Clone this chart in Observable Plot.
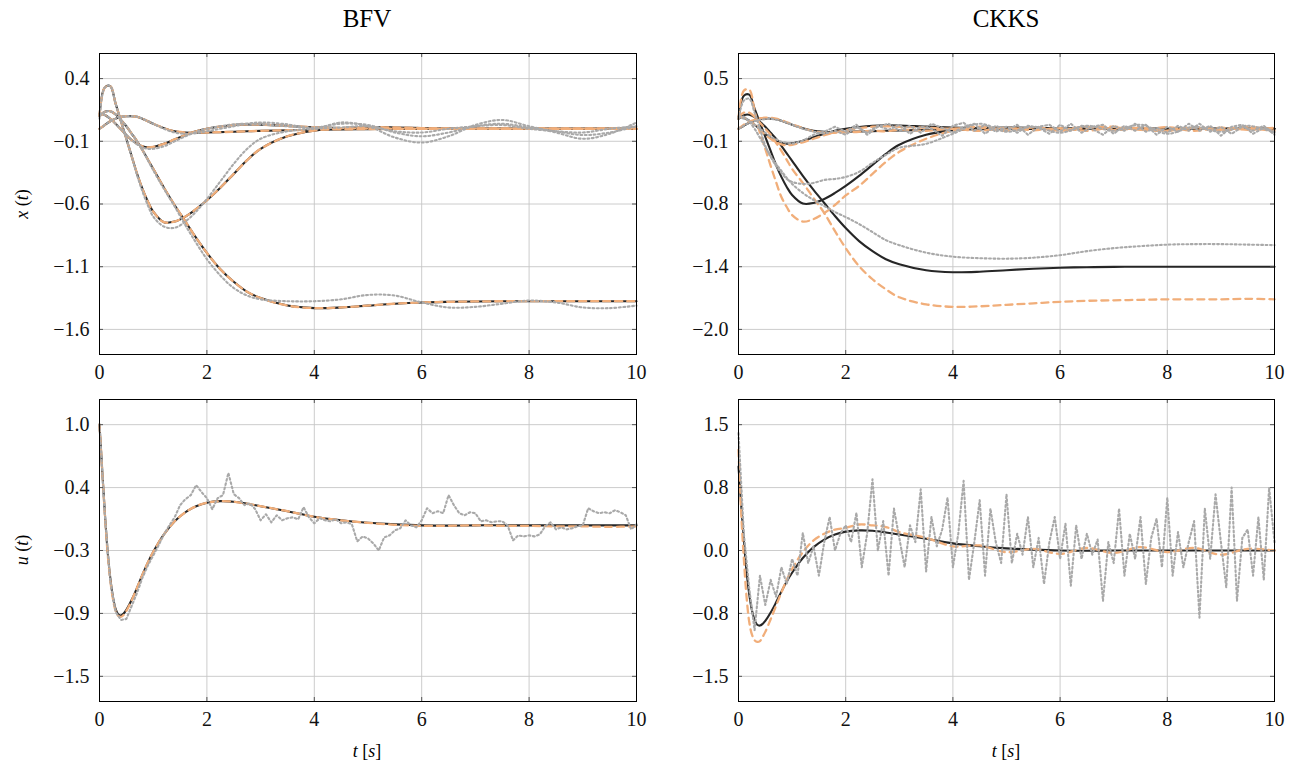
<!DOCTYPE html>
<html><head><meta charset="utf-8">
<script src="https://cdn.jsdelivr.net/npm/d3@7"></script>
<script src="https://cdn.jsdelivr.net/npm/@observablehq/plot@0.6"></script>
<style>
html,body{margin:0;padding:0;background:#fff;}
#wrap{position:relative;width:1299px;height:763px;overflow:hidden;font-family:"Liberation Serif",serif;color:#000;}
.title{position:absolute;font-size:25px;line-height:25px;text-align:center;width:200px;}
.lab{position:absolute;font-size:18px;line-height:18px;text-align:center;width:120px;white-space:nowrap;}
.ylab{transform:rotate(-90deg);}
</style></head><body><div id="wrap"></div>
<script>
// ---------- time grids ----------
const tS = [0,0.1,0.2,0.3,0.4,0.5,0.6,0.7,0.8,0.9,1.0,1.2,1.4,1.6,1.8,2.0,2.25,2.5,2.75,3.0,3.5,4.0,4.5,5.0,5.5,6.0,6.5,7.0,7.5,8.0,8.5,9.0,9.5,10.0];
const tF = [0,0.2,0.4,0.6,0.8,1.0,1.2,1.4,1.6,1.8,2.0,2.2,2.4,2.6,2.8,3.0,3.2,3.4,3.6,3.8,4.0,4.2,4.4,4.6,4.8,5.0,5.2,5.4,5.6,5.8,6.0,6.2,6.4,6.6,6.8,7.0,7.2,7.4,7.6,7.8,8.0,8.2,8.4,8.6,8.8,9.0,9.2,9.4,9.6,9.8,10.0];
const tU = [0,0.05,0.1,0.15,0.2,0.25,0.3,0.35,0.4,0.45,0.5,0.6,0.7,0.8,0.9,1.0,1.2,1.4,1.6,1.8,2.0,2.25,2.5,2.75,3.0,3.5,4.0,4.5,5.0,5.5,6.0,6.5,7.0,7.5,8.0,8.5,9.0,9.5,10.0];
const tD = [0,0.1,0.2,0.3,0.4,0.5,0.6,0.7,0.8,0.9,1.0,1.1,1.2,1.3,1.4,1.5,1.6,1.7,1.8,1.9,2.0,2.1,2.2,2.3,2.4,2.5,2.6,2.7,2.8,2.9,3.0,3.1,3.2,3.3,3.4,3.5,3.6,3.7,3.8,3.9,4.0,4.1,4.2,4.3,4.4,4.5,4.6,4.7,4.8,4.9,5.0,5.1,5.2,5.3,5.4,5.5,5.6,5.7,5.8,5.9,6.0,6.1,6.2,6.3,6.4,6.5,6.6,6.7,6.8,6.9,7.0,7.1,7.2,7.3,7.4,7.5,7.6,7.7,7.8,7.9,8.0,8.1,8.2,8.3,8.4,8.5,8.6,8.7,8.8,8.9,9.0,9.1,9.2,9.3,9.4,9.5,9.6,9.7,9.8,9.9,10.0];

// ---------- tick labels / domains ----------
const xTicks = [0,2,4,6,8,10];
const yTicksBFVx = [0.4,-0.1,-0.6,-1.1,-1.6];
const yTicksCKKSx = [0.5,-0.125,-0.75,-1.375,-2.0];
const yTicksBFVu = [1.0,0.375,-0.25,-0.875,-1.5];
const yTicksCKKSu = [1.5,0.75,0,-0.75,-1.5];

// ---------- true (plaintext) trajectories, solid black ----------
const trueP = [0.10,0.135,0.14,0.115,0.07,0.02,-0.04,-0.10,-0.17,-0.245,-0.32,-0.47,-0.61,-0.74,-0.87,-0.99,-1.12,-1.22,-1.30,-1.35,-1.41,-1.43,-1.425,-1.41,-1.395,-1.385,-1.38,-1.377,-1.375,-1.375,-1.375,-1.375,-1.375,-1.375];
const trueV = [0.10,0.33,0.34,0.20,0.06,-0.08,-0.22,-0.36,-0.48,-0.58,-0.66,-0.745,-0.74,-0.70,-0.64,-0.57,-0.47,-0.36,-0.25,-0.16,-0.06,-0.015,0.005,0.012,0.01,0.005,0,0,0,0,0,0,0,0];
const trueH = [0.0,0.03,0.06,0.08,0.095,0.10,0.10,0.095,0.08,0.06,0.04,0.005,-0.02,-0.03,-0.032,-0.03,-0.027,-0.024,-0.02,-0.017,-0.012,-0.008,-0.005,-0.003,-0.001,0,0,0,0,0,0,0,0,0];
const trueS = [0.12,0.11,0.08,0.04,-0.005,-0.05,-0.09,-0.12,-0.14,-0.148,-0.145,-0.12,-0.085,-0.05,-0.02,0.0,0.018,0.03,0.035,0.033,0.022,0.012,0.005,0.002,0,0,0,0,0,0,0,0,0,0];
const trueU = [1.0,0.55,0.12,-0.25,-0.52,-0.71,-0.83,-0.885,-0.895,-0.875,-0.84,-0.74,-0.62,-0.49,-0.37,-0.265,-0.09,0.04,0.13,0.19,0.225,0.24,0.235,0.215,0.19,0.14,0.085,0.05,0.025,0.01,0.0,-0.003,0,0,0,0,0,0,0];

// ---------- BFV: orange dashed (coincides with truth), grey dotted ----------
const bfvEstP = trueP, bfvEstV = trueV, bfvEstH = trueH, bfvEstS = trueS;
const bfvEstU = [1.0,0.55,0.11,-0.27,-0.54,-0.73,-0.85,-0.9,-0.91,-0.89,-0.85,-0.745,-0.62,-0.49,-0.37,-0.265,-0.09,0.04,0.13,0.19,0.225,0.24,0.235,0.215,0.19,0.14,0.085,0.05,0.025,0.005,-0.005,-0.005,0.0,-0.005,-0.005,-0.01,-0.01,-0.015,-0.01];
const bfvEncP = [0.10,0.135,0.14,0.115,0.07,0.02,-0.04,-0.10,-0.17,-0.25,-0.33,-0.48,-0.62,-0.77,-0.91,-1.04,-1.17,-1.27,-1.33,-1.36,-1.375,-1.375,-1.36,-1.325,-1.33,-1.385,-1.425,-1.42,-1.395,-1.37,-1.385,-1.425,-1.43,-1.41];
const bfvEncV = [0.08,0.33,0.34,0.2,0.06,-0.08,-0.22,-0.37,-0.5,-0.61,-0.7,-0.78,-0.79,-0.74,-0.66,-0.56,-0.42,-0.28,-0.16,-0.08,-0.02,0.0,0.01,0.02,-0.02,-0.03,0.0,0.02,0.03,0.0,-0.02,-0.03,0.0,0.02];
const bfvEncH = [0.0,0.03,0.06,0.08,0.095,0.1,0.1,0.095,0.08,0.06,0.04,0.0,-0.03,-0.04,-0.035,-0.02,0.0,0.02,0.04,0.05,0.035,0.0,0.05,0.02,-0.07,-0.11,-0.06,0.03,0.07,0.02,-0.03,-0.08,-0.04,0.05];
const bfvEncS = [0.12,0.11,0.08,0.04,-0.005,-0.05,-0.09,-0.125,-0.15,-0.16,-0.16,-0.14,-0.1,-0.06,-0.025,0.0,0.02,0.035,0.04,0.035,0.02,0.01,0.04,0.03,-0.03,-0.06,-0.03,0.02,0.04,0.01,-0.02,-0.05,-0.03,0.02];
const bfvEncU = [1.0,0.1,-0.55,-0.86,-0.94,-0.93,-0.8,-0.67,-0.52,-0.4,
  -0.3,-0.2,-0.09,0.0,0.08,0.2,0.26,0.3,0.4,0.33,
  0.27,0.16,0.27,0.3,0.52,0.31,0.27,0.2,0.22,0.16,
  0.05,0.11,0.03,0.1,0.05,0.07,0.08,0.06,0.18,0.08,
  0.02,0.07,0.05,0.04,0.06,0.02,0.03,0.01,-0.16,-0.11,
  -0.13,-0.18,-0.25,-0.12,-0.1,-0.05,-0.03,0.05,0.0,-0.02,
  0.05,0.17,0.12,0.14,0.12,0.3,0.2,0.12,0.1,0.13,
  0.12,0.04,0.05,0.03,0.04,0.04,0.0,-0.15,-0.1,-0.11,
  -0.1,-0.11,-0.09,-0.01,0.03,-0.04,-0.02,-0.04,-0.03,-0.01,
  0.0,0.17,0.14,0.12,0.13,0.12,0.15,0.13,0.1,-0.04,
  0.01];

// ---------- CKKS: orange dashed, grey dotted ----------
const ckksEstP = [0.12,0.16,0.16,0.12,0.06,0.0,-0.06,-0.14,-0.22,-0.31,-0.4,-0.54,-0.69,-0.84,-1.02,-1.19,-1.37,-1.5,-1.6,-1.68,-1.75,-1.775,-1.77,-1.755,-1.74,-1.725,-1.715,-1.71,-1.705,-1.70,-1.70,-1.70,-1.695,-1.70];
const ckksEstV = [0.1,0.38,0.39,0.18,-0.04,-0.2,-0.37,-0.53,-0.68,-0.78,-0.86,-0.925,-0.9,-0.84,-0.76,-0.665,-0.57,-0.45,-0.33,-0.23,-0.1,-0.02,0.01,-0.02,0.015,-0.01,0.02,-0.015,0.01,-0.02,0.015,-0.01,0.02,-0.02];
const ckksEstH = [0.0,0.04,0.07,0.09,0.105,0.11,0.11,0.1,0.085,0.065,0.045,0.005,-0.025,-0.04,-0.04,-0.035,-0.03,-0.02,-0.025,-0.01,-0.02,0.0,-0.02,0.01,-0.015,0.005,-0.02,0.01,-0.01,-0.02,0.01,-0.015,0.0,-0.02];
const ckksEstS = [0.12,0.11,0.08,0.04,-0.01,-0.06,-0.1,-0.135,-0.155,-0.165,-0.16,-0.135,-0.1,-0.065,-0.035,-0.015,0.005,0.02,0.025,0.02,0.01,0.0,0.02,-0.01,0.015,-0.02,0.01,0.02,-0.01,0.015,-0.02,0.01,-0.01,0.01];
const ckksEstU = [1.2,0.45,-0.1,-0.55,-0.85,-1.0,-1.07,-1.09,-1.08,-1.03,-0.97,-0.82,-0.66,-0.5,-0.35,-0.22,-0.02,0.12,0.2,0.25,0.27,0.31,0.3,0.28,0.22,0.15,0.05,0.06,-0.02,0.02,-0.04,0.03,-0.03,0.04,-0.02,0.03,-0.05,0.02,0.0];
const ckksEncP = [0.12,0.12,0.07,0.0,-0.09,-0.18,-0.27,-0.35,-0.42,-0.49,-0.55,-0.64,-0.71,-0.77,-0.83,-0.88,-0.95,-1.03,-1.11,-1.16,-1.235,-1.275,-1.29,-1.295,-1.285,-1.26,-1.22,-1.19,-1.17,-1.155,-1.15,-1.15,-1.155,-1.16];
const ckksEncV = [0.1,0.28,0.3,0.16,0.0,-0.17,-0.28,-0.37,-0.44,-0.5,-0.53,-0.55,-0.54,-0.51,-0.5,-0.48,-0.43,-0.34,-0.26,-0.19,-0.15,-0.05,0.05,-0.03,0.02,-0.04,0.03,-0.02,0.04,-0.05,0.02,-0.03,0.03,-0.04];
const ckksEncH = [0.0,0.06,0.09,0.1,0.08,0.04,0.0,-0.03,-0.05,-0.02,
  -0.06,0.02,-0.04,0.03,-0.01,0.04,-0.05,0.02,0.0,-0.07,
  0.03,0.06,-0.02,0.04,-0.03,0.02,-0.04,0.03,0.01,-0.05,
  0.04,-0.02,0.03,0.0,-0.06,0.03,-0.02,0.05,-0.03,0.01,
  -0.04,0.03,-0.02,0.05,-0.03,0.02,-0.05,0.02,-0.02,0.03,
  -0.06];
const ckksEncS = [0.12,0.08,0.0,-0.08,-0.13,-0.15,-0.12,-0.06,-0.03,0.02,
  -0.03,0.04,-0.06,0.02,0.05,-0.02,0.03,-0.04,0.05,0.01,
  -0.04,0.02,0.05,-0.05,0.03,-0.02,0.04,-0.06,0.02,0.04,
  -0.03,0.05,-0.04,0.02,0.04,-0.05,0.03,-0.02,0.04,-0.06,
  0.02,-0.03,0.05,-0.02,0.03,-0.07,0.02,0.04,-0.05,0.01,
  -0.03];
const ckksEncU = [1.4,0.2,-0.45,-0.95,-0.3,-0.65,-0.35,-0.55,-0.2,-0.4,
  -0.1,-0.3,0.21,-0.15,0.05,-0.3,0.1,0.4,0.0,0.2,
  0.3,0.1,0.45,-0.2,0.2,0.85,0.0,0.35,-0.3,0.5,
  0.15,-0.2,0.3,0.1,0.73,-0.25,0.4,0.05,0.25,0.63,
  -0.2,0.2,0.83,-0.35,0.1,0.6,-0.3,0.5,0.1,-0.15,
  0.67,-0.15,0.2,-0.05,0.4,-0.2,0.15,-0.4,0.1,0.4,
  -0.1,0.32,-0.42,0.3,-0.1,0.2,-0.05,0.13,-0.6,0.1,
  -0.15,0.5,-0.3,0.2,-0.1,0.4,-0.4,0.15,0.38,-0.2,
  0.63,-0.3,0.22,-0.2,0.1,0.35,-0.8,0.5,-0.1,0.67,
  0.1,-0.44,0.75,-0.6,0.15,0.25,-0.3,0.4,-0.35,0.75,
  0.1];

// ---------- rendering ----------
const STYLE = {
  truth: {stroke: "#262626", strokeWidth: 2.1},
  est:   {stroke: "#f1ae7a", strokeWidth: 2.3, strokeDasharray: "7,5"},
  enc:   {stroke: "#a9a9a9", strokeWidth: 2.1, strokeDasharray: "1.8,2.6"}
};
const wrap = document.getElementById("wrap");
const fmtY = d3.format(".1f");

function panel(cfg) {
  const frameW = cfg.width - cfg.mL - cfg.mR;
  const frameH = cfg.height - cfg.mT - cfg.mB;
  const lines = cfg.series.map(s =>
    Plot.line(s.t.map((t, i) => ({t, v: s.v[i]})),
      {x: "t", y: "v", curve: s.curve || "catmull-rom", ...STYLE[s.kind]}));
  const tickStyle = {stroke: "#555", strokeWidth: 1};
  const chart = Plot.plot({
    width: cfg.width, height: cfg.height,
    marginLeft: cfg.mL, marginRight: cfg.mR, marginTop: cfg.mT, marginBottom: cfg.mB,
    x: {domain: [0, 10], label: null},
    y: {domain: cfg.yDomain, label: null},
    marks: [
      Plot.gridX(xTicks, {stroke: "#c6c6c6", strokeOpacity: 1, strokeWidth: 0.9}),
      Plot.gridY(cfg.yTicks, {stroke: "#c6c6c6", strokeOpacity: 1, strokeWidth: 0.9}),
      ...lines,
      Plot.tickX(xTicks, {insetTop: frameH - 4, ...tickStyle}),
      Plot.tickX(xTicks, {insetBottom: frameH - 4, ...tickStyle}),
      Plot.tickY(cfg.yTicks, {insetRight: frameW - 4, ...tickStyle}),
      Plot.tickY(cfg.yTicks, {insetLeft: frameW - 4, ...tickStyle}),
      Plot.axisX(xTicks, {tickSize: 0, tickPadding: 10, tickFormat: d3.format("d"), label: null,
        fontSize: 20, fontFamily: "Liberation Serif", fill: "#111"}),
      Plot.axisY(cfg.yTicks, {tickSize: 0, tickPadding: 10, tickFormat: fmtY, label: null,
        fontSize: 20, fontFamily: "Liberation Serif", fill: "#111"}),
      Plot.frame({stroke: "#000", strokeWidth: 1})
    ]
  });
  chart.style.position = "absolute";
  chart.style.left = cfg.left + "px";
  chart.style.top = cfg.top + "px";
  chart.style.background = "none";
  chart.style.overflow = "visible";
  wrap.appendChild(chart);
}

function trio(tT, tr, tE, es, tG, en, gCurve) {
  return [
    {t: tT, v: tr, kind: "truth"},
    {t: tE, v: es, kind: "est"},
    {t: tG, v: en, kind: "enc", curve: gCurve}
  ];
}

// BFV states
panel({left: 0, top: 40, width: 650, height: 344, mL: 99, mR: 14, mT: 13, mB: 30,
  yDomain: [-1.8, 0.6], yTicks: yTicksBFVx,
  series: [
    {t: tS, v: trueP, kind: "truth"}, {t: tS, v: trueV, kind: "truth"},
    {t: tS, v: trueH, kind: "truth"}, {t: tS, v: trueS, kind: "truth"},
    {t: tS, v: bfvEstP, kind: "est"}, {t: tS, v: bfvEstV, kind: "est"},
    {t: tS, v: bfvEstH, kind: "est"}, {t: tS, v: bfvEstS, kind: "est"},
    {t: tS, v: bfvEncP, kind: "enc"}, {t: tS, v: bfvEncV, kind: "enc"},
    {t: tS, v: bfvEncH, kind: "enc"}, {t: tS, v: bfvEncS, kind: "enc"}
  ]});
// CKKS states
panel({left: 650, top: 40, width: 649, height: 344, mL: 88, mR: 25, mT: 13, mB: 30,
  yDomain: [-2.25, 0.75], yTicks: yTicksCKKSx,
  series: [
    {t: tS, v: trueP, kind: "truth"}, {t: tS, v: trueV, kind: "truth"},
    {t: tS, v: trueH, kind: "truth"}, {t: tS, v: trueS, kind: "truth"},
    {t: tS, v: ckksEstP, kind: "est"}, {t: tS, v: ckksEstV, kind: "est"},
    {t: tS, v: ckksEstH, kind: "est"}, {t: tS, v: ckksEstS, kind: "est"},
    {t: tS, v: ckksEncP, kind: "enc"}, {t: tS, v: ckksEncV, kind: "enc"},
    {t: tF, v: ckksEncH, kind: "enc", curve: "linear"}, {t: tF, v: ckksEncS, kind: "enc", curve: "linear"}
  ]});
// BFV input
panel({left: 0, top: 390, width: 650, height: 341, mL: 99, mR: 14, mT: 9, mB: 30,
  yDomain: [-1.75, 1.25], yTicks: yTicksBFVu,
  series: trio(tU, trueU, tU, bfvEstU, tD, bfvEncU, "linear")});
// CKKS input
panel({left: 650, top: 390, width: 649, height: 341, mL: 88, mR: 25, mT: 9, mB: 30,
  yDomain: [-1.8, 1.8], yTicks: yTicksCKKSu,
  series: trio(tU, trueU, tU, ckksEstU, tD, ckksEncU, "linear")});

// ---------- texts ----------
function addText(cls, html, left, top) {
  const d = document.createElement("div");
  d.className = cls;
  d.innerHTML = html;
  d.style.left = left + "px";
  d.style.top = top + "px";
  wrap.appendChild(d);
}
addText("title", "BFV", 367 - 100, 6);
addText("title", "CKKS", 1006 - 100, 6);
addText("lab ylab", "<i>x</i> (<i>t</i>)", 22 - 60, 204 - 9);
addText("lab ylab", "<i>u</i> (<i>t</i>)", 22 - 60, 550 - 9);
addText("lab", "<i>t</i> [<i>s</i>]", 367 - 60, 742);
addText("lab", "<i>t</i> [<i>s</i>]", 1006 - 60, 742);
</script>
</body></html>
